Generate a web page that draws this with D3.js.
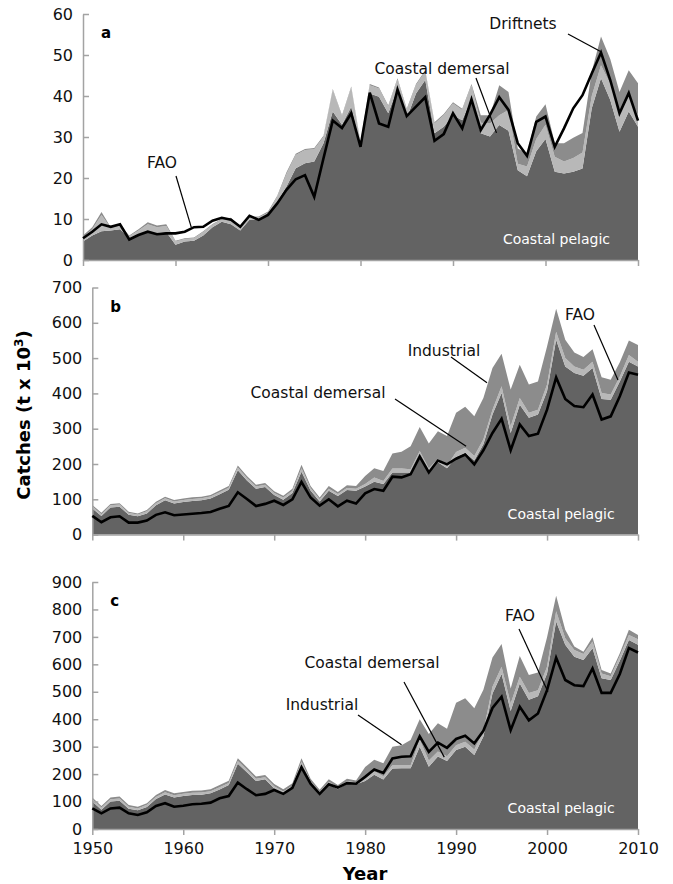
<!DOCTYPE html>
<html>
<head>
<meta charset="utf-8">
<script src="https://cdn.jsdelivr.net/npm/d3@7"></script>
<style>
  body { margin: 0; background: #fff; }
  svg { display: block; }
  text { font-family: "DejaVu Sans", Verdana, sans-serif; }
</style>
</head>
<body>
<svg id="chart" width="673" height="884"></svg>
<script>
// Years on the horizontal axis
const years = d3.range(1950, 2011);
const xTicks = [1950, 1960, 1970, 1980, 1990, 2000, 2010];
const yTicksA = [0, 10, 20, 30, 40, 50, 60];
const yTicksB = [0, 100, 200, 300, 400, 500, 600, 700];
const yTicksC = [0, 100, 200, 300, 400, 500, 600, 700, 800, 900];

// Panel a (t x 10^3)
const pelagicA = [4.5,6.0,7.0,7.2,7.5,5.3,6.0,7.0,6.5,6.8,3.7,4.5,4.7,6.0,8.0,9.3,8.7,7.2,9.8,10.0,
  11.0,14.2,17.9,22.4,23.6,24.0,28.5,36.2,33.0,37.4,28.0,40.6,39.8,35.8,41.8,34.6,40.6,43.9,30.9,32.5,
  35.3,34.1,39.4,30.9,30.1,32.9,31.5,21.9,20.4,26.5,29.5,21.5,21.1,21.5,22.3,37.0,44.3,39.0,31.3,36.2,32.5];
const demersalA = [1.0,1.5,4.0,0.6,0.8,0.5,1.2,1.7,1.5,1.5,0.8,0.6,0.6,0.8,0.6,0.5,1.3,0.6,0.5,0.4,
  0.5,1.2,3.1,3.2,3.2,3.0,1.5,5.3,2.0,4.7,0.5,2.0,2.0,1.6,2.2,2.0,2.0,2.1,2.4,2.8,
  2.9,2.5,3.2,2.6,3.2,2.4,5.1,1.6,2.4,3.0,3.5,3.7,2.9,3.4,3.9,3.0,3.2,4.0,4.0,3.6,2.8];
const driftnetsA = [0.5,0.5,0.7,0.2,0.2,0.2,0.3,0.5,0.4,0.4,0.2,0.2,0.2,0.2,0.2,0.2,0.3,0.2,0.2,0.2,
  0.3,0.3,0.4,0.3,0.3,0.3,0.3,0.2,0.3,0.2,0.2,0.3,0.3,0.3,0.3,0.3,0.3,0.3,0.3,0.3,
  0.3,0.3,0.3,1.8,2.0,7.3,4.4,3.7,3.2,5.5,5.0,3.3,4.5,4.9,4.8,6.0,7.0,6.0,5.7,6.5,7.8];
const faoA = [5.3,6.9,8.7,8.1,8.7,5.0,6.1,6.9,6.3,6.5,6.5,6.9,8.0,8.1,9.6,10.3,9.8,8.1,10.8,9.8,
  11.0,13.8,17.1,19.7,20.7,15.4,24.8,34.0,32.2,35.8,27.6,40.8,33.3,32.5,41.6,35.1,37.4,39.7,29.1,30.7,
  35.8,32.1,39.2,31.7,35.4,39.7,36.6,28.5,25.4,33.7,35.0,27.6,32.1,37.0,40.2,45.5,50.6,43.9,35.8,40.7,34.0];

// Panel b (t x 10^3)
const pelagicB = [74,53,77,79,56,52,60,83,97,88,92,95,97,102,114,127,182,153,130,135,
  112,99,118,178,125,94,124,109,126,124,136,150,143,176,176,176,223,178,205,188,
  220,232,210,256,340,401,288,368,331,340,406,552,476,458,450,472,384,382,434,490,476];
const demersalB = [6,5,6,6,5,5,6,6,6,6,6,6,6,6,6,6,8,7,6,6,
  6,6,6,10,7,6,6,6,6,6,7,12,9,11,11,9,14,9,10,7,
  14,14,13,14,14,19,19,19,14,14,19,23,24,18,17,18,17,15,14,19,14];
const industrialB = [4,4,4,4,4,3,4,4,4,4,4,5,4,4,5,5,6,6,5,5,
  5,5,6,10,6,5,8,6,8,8,23,26,28,43,48,65,68,71,78,84,
  111,116,112,117,118,92,104,94,80,80,108,65,52,40,36,35,45,42,40,41,47];
const faoB = [53,35,49,52,34,34,40,56,63,55,57,59,61,64,73,81,120,101,81,87,
  96,84,100,149,105,82,100,80,96,88,117,129,124,164,162,171,221,176,210,199,
  215,227,199,239,288,328,239,312,279,286,354,445,384,364,361,397,326,335,392,459,453];

// Panel c (t x 10^3)
const pelagicC = [100,70,100,103,74,68,80,109,126,115,120,124,125,130,144,160,238,207,175,181,
  148,129,150,235,166,129,163,145,166,163,175,198,180,220,221,221,300,227,264,248,
  288,300,270,337,494,565,430,530,471,484,567,756,671,628,616,659,549,543,613,689,671];
const demersalC = [8,8,8,8,7,7,8,8,8,8,8,8,8,8,8,8,10,9,8,8,
  8,8,8,11,8,7,9,7,8,7,10,12,12,12,11,11,25,23,18,17,
  17,18,20,18,24,26,27,25,25,22,24,37,24,24,22,24,18,14,17,18,20];
const industrialC = [7,6,7,7,6,6,6,7,8,7,7,7,7,7,8,8,10,9,8,8,
  8,8,9,12,9,7,9,8,9,7,41,42,48,68,73,92,75,96,103,100,
  155,158,150,152,107,83,55,75,65,64,108,57,31,13,8,16,12,10,10,19,16];
const faoC = [75,57,75,78,57,51,61,84,94,81,85,90,92,96,112,120,169,145,123,128,
  142,128,150,225,165,128,163,151,167,165,190,217,204,257,263,265,338,281,315,296,
  328,340,312,358,441,482,360,445,396,421,506,624,543,524,521,585,496,496,565,659,643];

const svg = d3.select("#chart");
const COLORS = { pelagic: "#636363", demersal: "#b8b8b8", upper: "#8c8c8c" };
const AXIS_GREY = "#a3a3a3";
const TICK_FONT = 16;

const panels = [
  { tag: "a", x0: 83, x1: 638, top: 14, bottom: 260, max: 60, ticks: yTicksA,
    layers: [pelagicA, demersalA, driftnetsA], fao: faoA, showYears: false,
    notes: [
      { text: "FAO", tx: 162, ty: 168, from: [176, 176], to: [1961.7, 8.0] },
      { text: "Coastal demersal", tx: 442, ty: 74, from: [476, 78], to: [1994.7, 31] },
      { text: "Driftnets", tx: 523, ty: 29, from: [568, 34], to: [2006, 50.8] }
    ] },
  { tag: "b", x0: 92.3, x1: 638, top: 287.5, bottom: 534.6, max: 700, ticks: yTicksB,
    layers: [pelagicB, demersalB, industrialB], fao: faoB, showYears: false,
    notes: [
      { text: "FAO", tx: 580, ty: 320, from: [594, 325], to: [2007.8, 438] },
      { text: "Industrial", tx: 444, ty: 356, from: [451, 357], to: [1993.4, 430] },
      { text: "Coastal demersal", tx: 318, ty: 398, from: [395, 399], to: [1991.1, 250] }
    ] },
  { tag: "c", x0: 92.3, x1: 638, top: 582, bottom: 829, max: 900, ticks: yTicksC,
    layers: [pelagicC, demersalC, industrialC], fao: faoC, showYears: true,
    notes: [
      { text: "FAO", tx: 520, ty: 621, from: [519, 629], to: [2000.1, 500] },
      { text: "Coastal demersal", tx: 372, ty: 668, from: [404, 682], to: [1988.7, 262] },
      { text: "Industrial", tx: 322, ty: 710, from: [358, 715], to: [1984.0, 307] }
    ] }
];

panels.forEach(p => {
  const x = d3.scaleLinear().domain([1950, 2010]).range([p.x0, p.x1]);
  const y = d3.scaleLinear().domain([0, p.max]).range([p.bottom, p.top]);

  const rows = years.map((yr, i) => ({ year: yr, l0: p.layers[0][i], l1: p.layers[1][i], l2: p.layers[2][i] }));
  const stacked = d3.stack().keys(["l0", "l1", "l2"])(rows);
  const fills = [COLORS.pelagic, COLORS.demersal, COLORS.upper];

  const g = svg.append("g");

  // stacked areas
  const area = d3.area()
    .x(d => x(d.data.year))
    .y0(d => y(d[0]))
    .y1(d => y(d[1]));
  g.selectAll("path.layer").data(stacked).join("path")
    .attr("class", "layer")
    .attr("d", area)
    .attr("fill", (d, i) => fills[i]);

  // y axis (ticks point into the plot)
  const yAxis = d3.axisLeft(y).tickValues(p.ticks).tickSizeInner(-6).tickSizeOuter(0).tickPadding(10);
  const ya = g.append("g").attr("transform", `translate(${p.x0},0)`).call(yAxis);
  ya.select(".domain").attr("stroke", AXIS_GREY).attr("stroke-width", 1.5);
  ya.selectAll(".tick line").attr("stroke", AXIS_GREY).attr("stroke-width", 1.5);
  ya.selectAll(".tick text").attr("font-size", TICK_FONT).attr("fill", "#111")
    .attr("font-family", "DejaVu Sans, Verdana, sans-serif");

  // x axis
  const xAxis = d3.axisBottom(x).tickValues(xTicks).tickSizeInner(6).tickSizeOuter(0).tickPadding(8)
    .tickFormat(p.showYears ? d3.format("d") : () => "");
  const xa = g.append("g").attr("transform", `translate(0,${p.bottom})`).call(xAxis);
  xa.select(".domain").attr("stroke", AXIS_GREY).attr("stroke-width", 1.5);
  xa.selectAll(".tick line").attr("stroke", AXIS_GREY).attr("stroke-width", 1.5);
  xa.selectAll(".tick text").attr("font-size", TICK_FONT).attr("fill", "#111")
    .attr("font-family", "DejaVu Sans, Verdana, sans-serif");

  // FAO reported catch line
  const line = d3.line().x((d, i) => x(years[i])).y(d => y(d));
  g.append("path").attr("d", line(p.fao))
    .attr("fill", "none").attr("stroke", "#000").attr("stroke-width", 2.6)
    .attr("stroke-linejoin", "miter");

  // panel letter
  g.append("text").attr("x", p.x0 + 18).attr("y", p.top + 24)
    .attr("font-weight", "bold").attr("font-size", 15).text(p.tag);

  // in-area label
  g.append("text").attr("x", (p.x0 + p.x1) / 2 + 196).attr("y", p.bottom - 16)
    .attr("text-anchor", "middle").attr("font-size", 14).attr("fill", "#fff")
    .text("Coastal pelagic");

  // callouts
  p.notes.forEach(n => {
    g.append("line")
      .attr("x1", n.from[0]).attr("y1", n.from[1])
      .attr("x2", x(n.to[0])).attr("y2", y(n.to[1]))
      .attr("stroke", "#000").attr("stroke-width", 1.2);
    g.append("text").attr("x", n.tx).attr("y", n.ty)
      .attr("text-anchor", "middle").attr("font-size", 15.5).attr("fill", "#111")
      .text(n.text);
  });
});

// shared axis titles
svg.append("text")
  .attr("transform", "translate(30,415) rotate(-90)")
  .attr("text-anchor", "middle").attr("font-weight", "bold").attr("font-size", 18)
  .html('Catches (t x 10<tspan baseline-shift="super" font-size="12">3</tspan>)');

svg.append("text").attr("x", 365).attr("y", 880)
  .attr("text-anchor", "middle").attr("font-weight", "bold").attr("font-size", 18)
  .text("Year");
</script>
</body>
</html>
